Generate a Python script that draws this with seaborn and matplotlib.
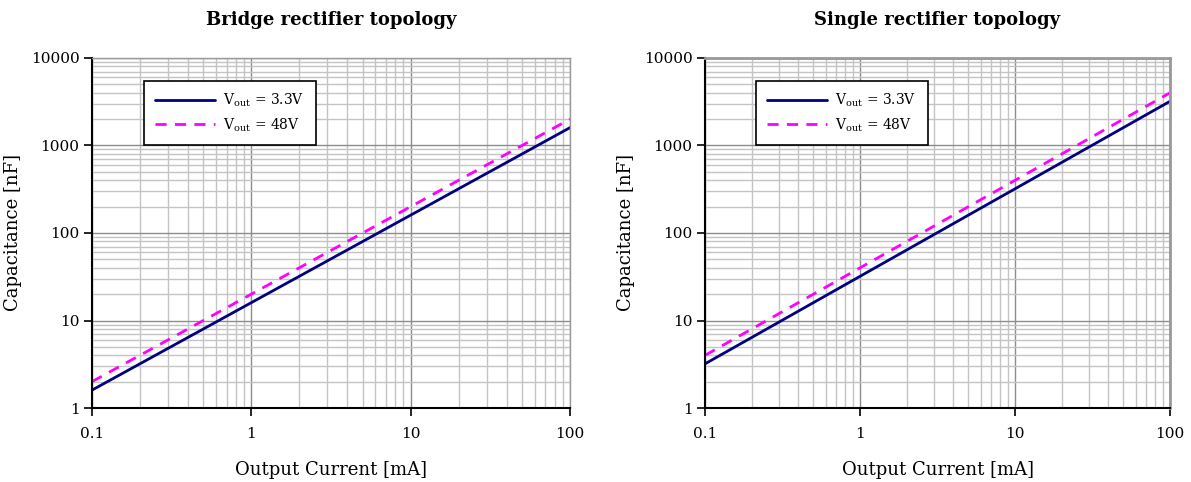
import numpy as np
import pandas as pd
import seaborn as sns
import matplotlib.pyplot as plt
from matplotlib.ticker import LogLocator, FixedLocator, FixedFormatter

# data (log-log straight lines, end points)
current_ma = [0.1, 100]
bridge_33v = [1.6, 1600]
bridge_48v = [2.0, 2000]
single_33v = [3.2, 3200]
single_48v = [4.0, 4000]

titles = ['Bridge rectifier topology', 'Single rectifier topology']
labels = [r'V$_{\mathrm{out}}$ = 3.3V', r'V$_{\mathrm{out}}$ = 48V']
xticks = [0.1, 1, 10, 100]
xticklabels = ['0.1', '1', '10', '100']
yticks = [1, 10, 100, 1000, 10000]
yticklabels = ['1', '10', '100', '1000', '10000']

sns.set_theme(style='white')
plt.rcParams['font.family'] = ['DejaVu Serif']
plt.rcParams['mathtext.fontset'] = 'dejavuserif'
plt.rcParams['text.color'] = 'black'
plt.rcParams['axes.labelcolor'] = 'black'
plt.rcParams['xtick.color'] = 'black'
plt.rcParams['ytick.color'] = 'black'

fig = plt.figure(figsize=(11.91, 4.82), dpi=100)
ax1 = fig.add_axes([0.0772, 0.1535, 0.4014, 0.7262])
ax2 = fig.add_axes([0.592, 0.1535, 0.3904, 0.7262])

series = [(bridge_33v, bridge_48v), (single_33v, single_48v)]

for i, ax in enumerate([ax1, ax2]):
    y33, y48 = series[i]
    sns.lineplot(x=current_ma, y=y33, ax=ax, color='#000080', lw=2, label=labels[0])
    sns.lineplot(x=current_ma, y=y48, ax=ax, color='#ff00ff', lw=2, ls=(0, (4, 3)), label=labels[1])
    ax.set_xscale('log')
    ax.set_yscale('log')
    ax.set_xlim(0.1, 100)
    ax.set_ylim(1, 10000)
    ax.xaxis.set_major_locator(FixedLocator(xticks))
    ax.xaxis.set_major_formatter(FixedFormatter(xticklabels))
    ax.yaxis.set_major_locator(FixedLocator(yticks))
    ax.yaxis.set_major_formatter(FixedFormatter(yticklabels))
    ax.xaxis.set_minor_locator(LogLocator(base=10, subs=np.arange(2, 10)))
    ax.yaxis.set_minor_locator(LogLocator(base=10, subs=np.arange(2, 10)))
    ax.tick_params(which='major', direction='out', length=6, width=1.2, color='black',
                   labelsize=11, bottom=True, left=True, pad=3)
    ax.tick_params(axis='x', which='major', pad=8)
    ax.tick_params(which='minor', length=0)
    ax.grid(which='major', color='#8c8c8c', lw=1.0)
    ax.grid(which='minor', color='#c4c4c4', lw=1.0)
    ax.set_axisbelow(True)
    for s in ['left', 'bottom']:
        ax.spines[s].set_color('black')
        ax.spines[s].set_linewidth(1.5)
    ax.set_title(titles[i], fontsize=13, fontweight='bold', pad=24)
    ax.set_xlabel('Output Current [mA]', fontsize=13, labelpad=14)
    ax.set_ylabel('Capacitance [nF]', fontsize=13, labelpad=6)
    leg = ax.legend(loc='upper left', bbox_to_anchor=(0.095, 0.955), fontsize=10,
                    frameon=True, fancybox=False, framealpha=1, edgecolor='black',
                    handlelength=4.3, handletextpad=0.6, borderpad=0.8, labelspacing=0.5)
    leg.get_frame().set_linewidth(1.2)

for s in ['top', 'right']:
    ax1.spines[s].set_color('#999999')
    ax1.spines[s].set_linewidth(1.0)
    ax2.spines[s].set_color('#999999')
    ax2.spines[s].set_linewidth(2.0)

fig.savefig('out.png', dpi=100)
